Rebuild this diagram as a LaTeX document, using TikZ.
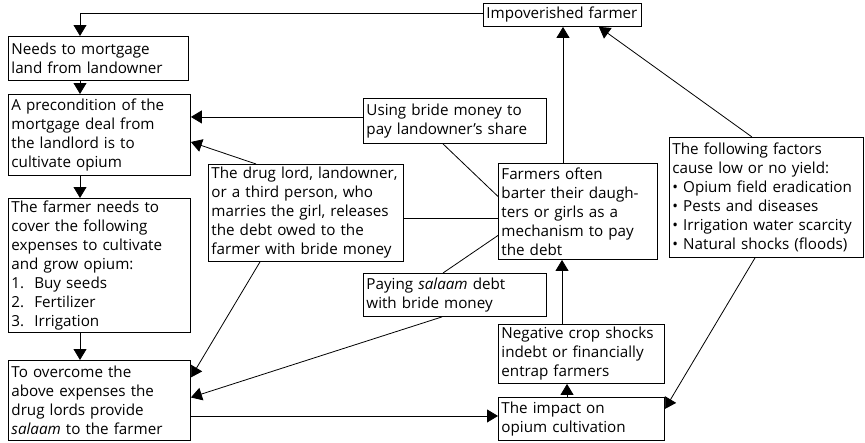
\documentclass[tikz,border=0pt]{standalone}
\usepackage{fontspec}
\setmainfont{Open Sans}
\usetikzlibrary{arrows.meta}

\begin{document}
\begin{tikzpicture}[x=1pt,y=-1pt,>={Triangle[length=11pt,width=13pt]},
        box/.style={draw,line width=0.9pt,anchor=north west,align=left,
                inner xsep=3pt,inner ysep=1pt,
                font=\fontsize{15.2}{19}\selectfont},
        link/.style={line width=0.8pt}]
        % frame of the picture
        \useasboundingbox (0,0) rectangle (865,442);
        \coordinate (col) at (80,0);

        % left column
        \node[box,text width=152pt,minimum height=23pt] (farmer) at (483,3) {Impoverished farmer};
        \node[box,text width=174pt,minimum height=44pt] (needs) at (8,36) {Needs to mortgage\\land from landowner};
        \node[box,text width=176pt,minimum height=81pt] (precond) at (8,94) {A precondition of the\\mortgage deal from\\the landlord is to\\cultivate opium};
        \node[box,text width=176pt,minimum height=134pt] (cover) at (8,198) {The farmer needs to\\cover the following\\expenses to cultivate\\and grow opium:\\1.\ \ Buy seeds\\2.\ \ Fertilizer\\3.\ \ Irrigation};
        \node[box,text width=176pt,minimum height=80pt] (overcome) at (8,360) {To overcome the\\above expenses the\\drug lords provide\\\textit{salaam} to the farmer};

        % middle boxes
        \node[box,text width=177pt,minimum height=45pt] (bride) at (363,98) {Using bride money to\\pay landowner's share};
        \node[box,text width=189pt,minimum height=97pt] (drug) at (208,164) {The drug lord, landowner,\\or a third person, who\\marries the girl, releases\\the debt owed to the\\farmer with bride money};
        \node[box,text width=177pt,minimum height=43pt] (salaam) at (363,273) {Paying \textit{salaam} debt\\with bride money};

        % right boxes
        \node[box,text width=153pt,minimum height=96pt] (barter) at (498,163) {Farmers often\\barter their daugh-\\ters or girls as a\\mechanism to pay\\the debt};
        \node[box,text width=160pt,minimum height=59pt] (shocks) at (498,324) {Negative crop shocks\\indebt or financially\\entrap farmers};
        \node[box,text width=160pt,minimum height=43pt] (impact) at (498,397) {The impact on\\opium cultivation};
        \node[box,text width=188pt,minimum height=120pt] (factors) at (669,137) {The following factors\\cause low or no yield:\\• Opium field eradication\\• Pests and diseases\\• Irrigation water scarcity\\• Natural shocks (floods)};

        % arrows down the left column
        \draw[link,->] ([yshift=1.5pt]farmer.west) -| (needs.north -| col);
        \draw[link,->] (needs.south -| col) -- (precond.north -| col);
        \draw[link,->] (precond.south -| col) -- (cover.north -| col);
        \draw[link,->] (cover.south -| col) -- (overcome.north -| col);

        % arrows into the left column
        \draw[link,->] ([yshift=4pt]bride.west) -- ([yshift=4pt]precond.east |- bride.west);
        \draw[link,->] ([xshift=48pt]drug.north west) -- ([yshift=-7pt]precond.east);
        \draw[link,->] ([xshift=52pt]drug.south west) -- ([yshift=23pt]overcome.east);
        \draw[link,->] ([xshift=79pt]salaam.south west) -- ([yshift=3pt]overcome.east);
        \draw[link,->] ([yshift=3pt]overcome.east |- impact.west) -- ([yshift=3pt]impact.west);

        % lines to the barter box
        \draw[link] ([yshift=-5pt]drug.east) -- ([yshift=-5pt]barter.west |- drug.east);
        \draw[link] ([xshift=80pt]bride.south west) -- ([yshift=15pt]barter.west);
        \draw[link] ([xshift=80pt]salaam.north west) -- ([yshift=-24pt]barter.west);

        % arrows on the right
        \draw[link,->] ([xshift=65pt]barter.north west) -- ([xshift=80pt]farmer.south west);
        \draw[link,->] ([xshift=83pt]factors.north west) -- ([xshift=-43pt]farmer.south east);
        \draw[link,->] ([xshift=86pt]factors.south west) -- ([yshift=10pt]impact.east);
        \draw[link,->] ([xshift=64pt]shocks.north west) -- ([xshift=64pt]barter.south west);
        \draw[link,->] ([xshift=69pt]impact.north west) -- ([xshift=69pt]shocks.south west);
\end{tikzpicture}
\end{document}
